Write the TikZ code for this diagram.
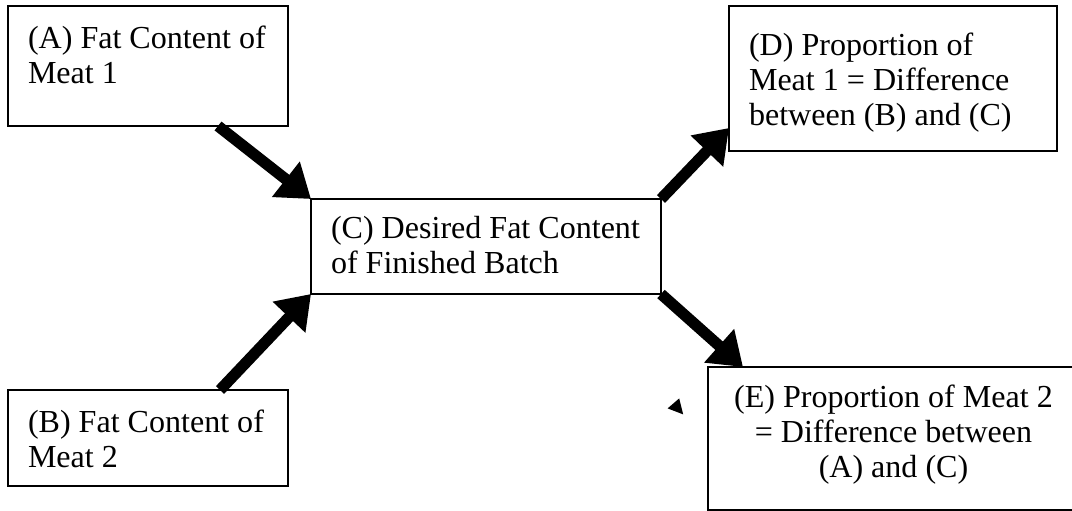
\documentclass[tikz,border=0pt]{standalone}
\usepackage{fontspec}
\setmainfont{Liberation Serif}
\usetikzlibrary{arrows.meta}

\begin{document}
\begin{tikzpicture}[
    box/.style={draw, line width=0.07cm, inner xsep=0.5cm, inner ysep=0.5cm, outer sep=0pt},
    bigarrow/.style={line width=0.28cm, -{Triangle[length=0.8cm, width=1.075cm]}},
    font=\fontsize{22.8}{24.9}\selectfont]
    \useasboundingbox (0, 0) rectangle (26.8, 12.75);
    \clip (0, 0) rectangle (26.8, 12.75);

    % 箱を置く
    \node[box] (A) at (3.7, 11.1) {\parbox[c][2cm][t]{6cm}{\raggedright (A) Fat Content of\\Meat 1}};
    \node[box] (B) at (3.7, 1.8) {\parbox[c][1.4cm][t]{6cm}{\raggedright (B) Fat Content of\\Meat 2}};
    \node[box, inner ysep=0.425cm] (C) at (12.15, 6.5875) {\parbox[c][1.525cm][t]{7.75cm}{\raggedright (C) Desired Fat Content\\of Finished Batch}};
    \node[box, inner ysep=0.675cm] (D) at (22.325, 10.7875) {\parbox[c][2.275cm][t]{7.2cm}{\raggedright (D) Proportion of\\Meat 1 = Difference\\between (B) and (C)}};
    \node[box, inner ysep=0.45cm] (E) at (22.3375, 1.7875) {\parbox[c][2.675cm][t]{8.275cm}{\centering (E) Proportion of Meat 2\\= Difference between\\(A) and (C)}};

    % 矢印を引く
    \draw[bigarrow] ([xshift=-1.75cm]A.south east) -- (C.north west);
    \draw[bigarrow] ([xshift=-1.7cm]B.north east) -- (C.south west);
    \draw[bigarrow] (C.north east) -- ([yshift=0.575cm]D.south west);
    \draw[bigarrow] (C.south east) -- ([xshift=0.875cm]E.north west);

    % 小さな三角
    \fill (16.69, 2.54) -- (16.98, 2.79) -- (17.08, 2.39) -- cycle;
\end{tikzpicture}
\end{document}
